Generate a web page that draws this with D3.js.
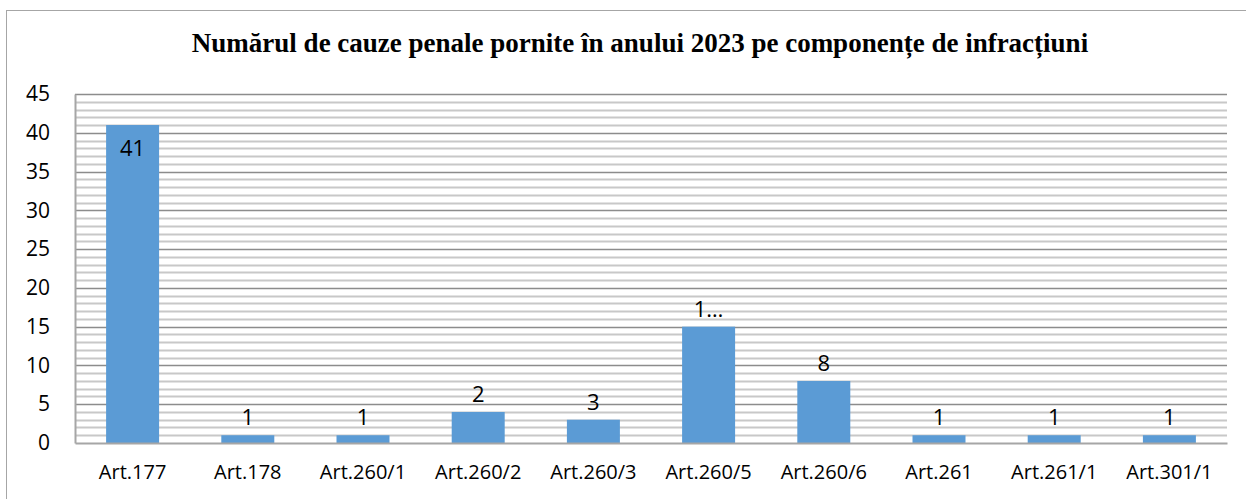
<!DOCTYPE html>
<html lang="ro">
<head>
    <meta charset="UTF-8">
    <title>Cauze penale 2023</title>
    <style>
        body { margin: 0; background: #fff; }
        .title { font-family: "Liberation Serif", "Times New Roman", serif; font-weight: bold; font-size: 27px; }
        .tick text { font-family: "Open Sans", "Noto Sans", sans-serif; fill: #000; }
        .val { font-family: "Open Sans", "Noto Sans", sans-serif; font-size: 22px; fill: #000; }
    </style>
</head>
<body>
    <div id="chart"></div>
    <script src="https://d3js.org/d3.v7.min.js"></script>
    <script>
        const categories = ["Art.177", "Art.178", "Art.260/1", "Art.260/2", "Art.260/3",
            "Art.260/5", "Art.260/6", "Art.261", "Art.261/1", "Art.301/1"];
        const values = [41, 1, 1, 4, 3, 15, 8, 1, 1, 1];
        const valueLabels = ["41", "1", "1", "2", "3", "1…", "8", "1", "1", "1"];
        const yTicks = [0, 5, 10, 15, 20, 25, 30, 35, 40, 45];
        const minorTicks = d3.range(0, 46);

        const width = 1246, height = 499;
        const margin = { top: 94, right: 19, bottom: 56, left: 75 };

        const svg = d3.select("#chart").append("svg")
            .attr("width", width)
            .attr("height", height);

        // outer frame
        svg.append("rect")
            .attr("x", 6.5).attr("y", 10.5)
            .attr("width", width + 10).attr("height", height + 10)
            .attr("fill", "none")
            .attr("stroke", "#a6a6a6");

        svg.append("text")
            .attr("class", "title")
            .attr("x", 640).attr("y", 52)
            .attr("text-anchor", "middle")
            .text("Numărul de cauze penale pornite în anului 2023 pe componențe de infracțiuni");

        const x = d3.scaleBand()
            .domain(categories)
            .range([margin.left, width - margin.right])
            .paddingInner(0.54)
            .paddingOuter(0.27);

        const y = d3.scaleLinear()
            .domain([0, 45])
            .range([height - margin.bottom, margin.top]);

        // minor grid
        svg.append("g")
            .selectAll("line")
            .data(minorTicks.filter(d => d % 5 !== 0))
            .join("line")
            .attr("x1", margin.left).attr("x2", width - margin.right)
            .attr("y1", d => Math.round(y(d)) + 0.5).attr("y2", d => Math.round(y(d)) + 0.5)
            .attr("stroke", "#c8c8c8")
            .attr("stroke-width", 2);

        // major grid
        svg.append("g")
            .selectAll("line")
            .data(yTicks.filter(d => d > 0))
            .join("line")
            .attr("x1", margin.left).attr("x2", width - margin.right)
            .attr("y1", d => Math.round(y(d)) + 0.5).attr("y2", d => Math.round(y(d)) + 0.5)
            .attr("stroke", "#8c8c8c")
            .attr("stroke-width", 1.5);

        svg.selectAll("rect.bar")
            .data(values)
            .join("rect")
            .attr("class", "bar")
            .attr("x", (d, i) => x(categories[i]))
            .attr("y", d => y(d))
            .attr("width", x.bandwidth())
            .attr("height", d => y(0) - y(d))
            .attr("fill", "#5b9bd5");

        svg.selectAll("text.val")
            .data(values)
            .join("text")
            .attr("class", "val")
            .attr("x", (d, i) => x(categories[i]) + x.bandwidth() / 2)
            .attr("y", d => d > 30 ? y(d) + 31 : y(d) - 10)
            .attr("text-anchor", "middle")
            .text((d, i) => valueLabels[i]);

        const yAxis = svg.append("g")
            .attr("transform", `translate(${margin.left},0)`)
            .call(d3.axisLeft(y).tickValues(yTicks).tickSize(0).tickPadding(25));
        yAxis.select(".domain").attr("stroke", "#a6a6a6").attr("stroke-width", 2);
        yAxis.selectAll("text").style("font-size", "21px");

        const xAxis = svg.append("g")
            .attr("transform", `translate(0,${height - margin.bottom})`)
            .call(d3.axisBottom(x).tickSize(0).tickPadding(22));
        xAxis.select(".domain").attr("stroke", "#a6a6a6").attr("stroke-width", 2);
        xAxis.selectAll("text").style("font-size", "20px");
    </script>
</body>
</html>
